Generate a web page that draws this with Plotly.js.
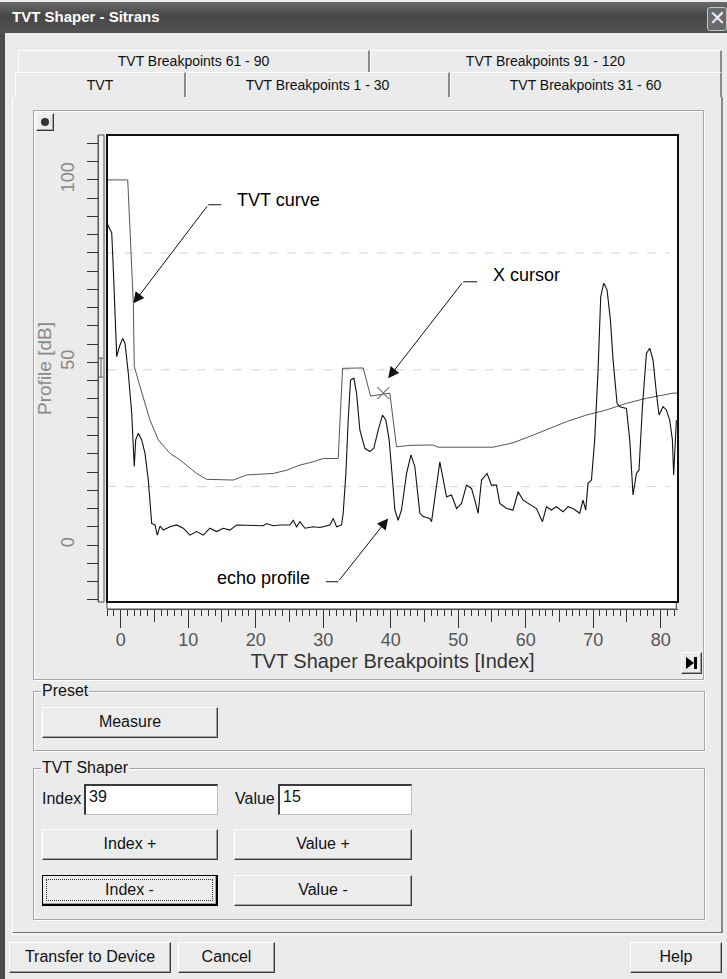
<!DOCTYPE html>
<html><head><meta charset="utf-8">
<script src="https://cdn.plot.ly/plotly-3.0.1.min.js"></script>
<style>
html,body{margin:0;padding:0;}
body{width:727px;height:979px;position:relative;overflow:hidden;background:#ebebeb;font-family:'Liberation Sans',Arial,sans-serif;color:#111;}
.a{position:absolute;box-sizing:border-box;}
#titlebar{left:0;top:2px;width:727px;height:31px;background:linear-gradient(#6a6a6a,#474747 45%,#525252 100%);}
#titletext{left:12px;top:8px;color:#fff;font-weight:bold;font-size:15px;}
#close{left:707px;top:7px;width:20px;height:24px;border:1px solid #c4c4c4;border-radius:3px;background:#6a6a6a;color:#f0f0f0;font-size:20px;line-height:21px;text-align:center;}
#leftedge{left:0;top:33px;width:5px;height:946px;background:#4a4a4a;}
.tab{height:22px;border-top:1px solid #fff;border-left:1px solid #fff;border-right:2px solid #8a8a8a;background:#ebebeb;font-size:14px;text-align:center;line-height:21px;}
.btn{background:#ececec;border-top:1px solid #fff;border-left:1px solid #fff;border-right:1px solid #3a3a3a;border-bottom:1px solid #3a3a3a;box-shadow:inset -1px -1px 0 #a0a0a0;font-size:16px;text-align:center;color:#111;}
.grp{border:1px solid #a6a6a6;box-shadow:1px 1px 0 #fff, inset 1px 1px 0 #fff;}
.lbl{background:#ebebeb;font-size:16px;padding:0 1px;}
.tb{background:#fff;border-top:2px solid #3a3a3a;border-left:2px solid #3a3a3a;border-right:1px solid #bdbdbd;border-bottom:1px solid #bdbdbd;font-size:16px;padding-left:3px;line-height:22px;}
#chart{left:34px;top:111px;width:668px;height:568px;}
</style></head>
<body>
<div class="a" id="titlebar"></div>
<div class="a" id="titletext">TVT Shaper - Sitrans</div>
<div class="a" id="close">✕</div>
<div class="a" id="leftedge"></div>

<div class="a tab" style="left:18px;top:50px;width:352px;">TVT Breakpoints 61 - 90</div>
<div class="a tab" style="left:370px;top:50px;width:352px;">TVT Breakpoints 91 - 120</div>
<div class="a tab" style="left:15px;top:72px;width:171px;height:25px;line-height:24px;">TVT</div>
<div class="a tab" style="left:186px;top:72px;width:264px;height:25px;line-height:24px;">TVT Breakpoints 1 - 30</div>
<div class="a tab" style="left:450px;top:72px;width:272px;height:25px;line-height:24px;">TVT Breakpoints 31 - 60</div>
<div class="a" style="left:12px;top:97px;width:711px;height:836px;border-left:1px solid #fff;border-right:2px solid #8a8a8a;border-bottom:1px solid #777;"></div>

<div class="a grp" style="left:33px;top:110px;width:671px;height:570px;"></div>
<div class="a btn" style="left:36px;top:113px;width:18px;height:18px;"><div class="a" style="left:4px;top:4px;width:8px;height:8px;border-radius:50%;background:#333;"></div></div>
<div class="a btn" style="left:681px;top:652px;width:21px;height:22px;"><svg width="19" height="20" style="position:absolute;left:0;top:0"><path d="M4 4 L12 10 L4 16 Z" fill="#000"/><rect x="12" y="4" width="3" height="12" fill="#000"/></svg></div>
<div class="a" id="chart"></div>

<div class="a grp" style="left:33px;top:691px;width:672px;height:60px;"></div>
<div class="a lbl" style="left:41px;top:682px;">Preset</div>
<div class="a btn" style="left:42px;top:707px;width:176px;height:31px;line-height:28px;">Measure</div>

<div class="a grp" style="left:33px;top:768px;width:672px;height:152px;"></div>
<div class="a lbl" style="left:41px;top:759px;">TVT Shaper</div>
<div class="a" style="left:42px;top:790px;font-size:16px;">Index</div>
<div class="a tb" style="left:84px;top:784px;width:134px;height:31px;">39</div>
<div class="a" style="left:235px;top:790px;font-size:16px;">Value</div>
<div class="a tb" style="left:278px;top:784px;width:134px;height:31px;">15</div>
<div class="a btn" style="left:42px;top:829px;width:176px;height:31px;line-height:28px;">Index +</div>
<div class="a btn" style="left:234px;top:829px;width:178px;height:31px;line-height:28px;">Value +</div>
<div class="a btn" style="left:42px;top:875px;width:176px;height:31px;line-height:27px;border:1px solid #000;border-right:2px solid #000;border-bottom:2px solid #000;"><div class="a" style="left:3px;top:3px;right:3px;bottom:3px;border:1px dotted #333;"></div>Index -</div>
<div class="a btn" style="left:234px;top:875px;width:178px;height:31px;line-height:28px;">Value -</div>

<div class="a" style="left:12px;top:934px;width:711px;height:1px;background:#fff;"></div>
<div class="a btn" style="left:9px;top:942px;width:162px;height:31px;line-height:28px;">Transfer to Device</div>
<div class="a btn" style="left:178px;top:942px;width:97px;height:31px;line-height:28px;">Cancel</div>
<div class="a btn" style="left:630px;top:942px;width:92px;height:31px;line-height:28px;">Help</div>

<script>
// TVT curve (gray)
const tvtIndex = [-2.03, 1.04, 1.87, 2.01, 2.86, 4.34, 5.57, 7.30, 8.78, 11.25, 12.73, 16.67, 18.66, 22.59, 24.58, 26.55, 28.52, 30.0, 32.07, 32.22, 32.87, 35.92, 37.02, 39.87, 40.86, 42.83, 46.28, 47.02, 55.17, 58.13, 61.09, 63.07, 66.04, 69.0, 71.96, 74.92, 77.88, 79.6, 81.82, 82.56];
const tvtValue = [100, 100, 66.2, 48.9, 43.4, 34.2, 28.8, 25.1, 23.3, 19.6, 18.0, 17.8, 19.2, 19.6, 20.5, 21.9, 22.8, 23.7, 23.7, 23.7, 48.4, 48.5, 40.8, 41.6, 26.9, 27.3, 27.4, 26.8, 26.8, 28.0, 30.1, 31.5, 33.8, 35.6, 37.0, 38.8, 40.2, 40.8, 41.6, 41.6];

// echo profile (black)
const echoIndex = [-1.98, -1.33, -1.09, -0.84, -0.59, -0.2, 0.3, 0.64, 1.13, 1.63, 2.01, 2.22, 2.61, 3.11, 3.6, 4.09, 4.59, 5.08, 5.42, 5.82, 6.31, 7.3, 8.29, 9.27, 10.26, 11.25, 12.23, 13.22, 14.21, 15.19, 16.18, 17.17, 18.15, 19.14, 21.11, 21.62, 22.59, 23.59, 25.07, 25.56, 26.06, 26.55, 27.29, 28.52, 29.51, 30.99, 31.48, 31.98, 32.72, 32.96, 33.36, 33.7, 34.05, 34.54, 34.94, 35.43, 36.17, 36.91, 37.5, 38.14, 38.79, 39.28, 39.77, 40.27, 40.61, 41.1, 41.6, 42.35, 43.0, 43.57, 44.32, 44.8, 45.79, 46.05, 47.28, 48.27, 49.01, 49.75, 50.49, 51.23, 51.97, 52.46, 52.95, 53.45, 54.28, 54.93, 55.67, 56.16, 57.15, 58.13, 58.87, 59.61, 60.35, 61.59, 62.48, 63.07, 63.81, 64.55, 65.53, 66.27, 67.01, 68.0, 68.49, 68.89, 69.23, 69.74, 70.22, 70.72, 71.11, 71.56, 72.05, 72.55, 72.94, 73.53, 73.93, 74.92, 75.41, 75.9, 76.4, 76.78, 77.29, 77.88, 78.37, 78.86, 79.36, 79.75, 80.34, 80.84, 81.33, 81.73, 81.92, 82.32];
const echoValue = [87.9, 85.5, 75.3, 62.6, 51.6, 54.3, 56.6, 55.2, 47.0, 36.1, 21.5, 28.8, 30.6, 28.8, 25.1, 17.8, 5.9, 5.5, 2.7, 5.2, 4.1, 5.0, 5.5, 4.6, 2.7, 3.7, 2.7, 4.6, 3.7, 4.6, 4.1, 5.5, 5.5, 5.3, 5.3, 5.9, 5.3, 5.5, 5.5, 6.8, 5.0, 6.4, 4.6, 5.0, 4.8, 5.5, 7.3, 5.0, 5.5, 8.7, 19.6, 34.2, 45.2, 45.7, 41.6, 31.5, 26.5, 25.6, 26.5, 31.5, 35.6, 34.2, 28.8, 17.8, 9.6, 6.8, 9.6, 19.6, 24.7, 21.5, 8.7, 7.8, 7.3, 6.4, 22.8, 13.2, 13.7, 10.0, 11.4, 16.4, 15.5, 12.3, 8.7, 17.8, 19.6, 16.4, 16.4, 11.4, 10.0, 9.6, 14.6, 12.3, 11.4, 10.0, 6.4, 10.5, 9.6, 10.5, 9.1, 10.5, 10.0, 8.7, 12.3, 9.6, 16.9, 17.8, 28.8, 47.9, 68.0, 71.7, 69.9, 61.6, 50.7, 38.8, 37.9, 37.4, 28.8, 13.7, 19.6, 20.5, 37.9, 52.5, 53.9, 50.7, 41.6, 35.6, 37.9, 37.0, 34.2, 28.8, 19.2, 34.2];

// X cursor
const cursorIndex = [38.9];
const cursorValue = [41.6];

// axis ticks
const yTickValues = [-15, -10, -5, 0, 5, 10, 15, 20, 25, 30, 35, 40, 45, 50, 55, 60, 65, 70, 75, 80, 85, 90, 95, 100, 105, 110];
const yTickLabels = ['', '', '', '0', '', '', '', '', '', '', '', '', '', '50', '', '', '', '', '', '', '', '', '', '100', '', ''];
const xMidTicks = [5, 15, 25, 35, 45, 55, 65, 75];
const gridLevels = [16, 48, 80];

const W = 668, H = 568;
const L = 64, R = 24, T = 24, B = 70;
const pw = W - L - R, ph = H - T - B;
const xd0 = 9 / pw, yd0 = 7 / ph;

const xr = [-2.03, 82.56], yr = [-15.6, 112.3];
const annFont = {family: "'Liberation Sans', Arial", size: 18, color: '#000'};

const traces = [
  {x: tvtIndex, y: tvtValue, type: 'scatter', mode: 'lines', line: {color: '#555', width: 1}, hoverinfo: 'skip'},
  {x: echoIndex, y: echoValue, type: 'scatter', mode: 'lines', line: {color: '#111', width: 1.1}, hoverinfo: 'skip'},
  {x: cursorIndex, y: cursorValue, type: 'scatter', mode: 'markers', marker: {symbol: 'x-thin-open', size: 12, color: '#777', line: {color: '#777', width: 1.2}}, hoverinfo: 'skip'},
  {x: [], y: [], xaxis: 'x2', yaxis: 'y', type: 'scatter', mode: 'lines', hoverinfo: 'skip'}
];

const shapes = [
  {type: 'rect', xref: 'paper', yref: 'paper', x0: xd0, x1: 1, y0: yd0, y1: 1, fillcolor: '#fff', line: {width: 0}, layer: 'below'},
  {type: 'rect', xref: 'paper', yref: 'paper', x0: 0, x1: 6 / pw, y0: yd0, y1: 1, fillcolor: '#f2f2f2', line: {color: '#555', width: 1}, layer: 'below'},
  {type: 'rect', xref: 'paper', yref: 'paper', x0: xd0, x1: 0.997, y0: 0, y1: yd0, fillcolor: '#fff', line: {color: '#444', width: 1}, layer: 'below'}
];
gridLevels.forEach(g => shapes.push({type: 'line', xref: 'paper', yref: 'y', x0: xd0, x1: 0.985, y0: g, y1: g, line: {color: '#d4d4d4', width: 1, dash: 'dash'}, layer: 'below'}));
shapes.push({type: 'rect', xref: 'paper', yref: 'paper', x0: xd0, x1: 1, y0: yd0, y1: 1, fillcolor: 'rgba(0,0,0,0)', line: {color: '#111', width: 2}, layer: 'above'});
// small I marker on the y strip
shapes.push({type: 'line', xref: 'paper', yref: 'y', x0: 3 / pw, x1: 3 / pw, y0: 46, y1: 51.2, line: {color: '#555', width: 1}});
shapes.push({type: 'line', xref: 'paper', yref: 'y', x0: 1 / pw, x1: 5 / pw, y0: 51.2, y1: 51.2, line: {color: '#555', width: 1}});
shapes.push({type: 'line', xref: 'paper', yref: 'y', x0: 1 / pw, x1: 5 / pw, y0: 46, y1: 46, line: {color: '#555', width: 1}});
// elbows of the callouts
shapes.push({type: 'line', xref: 'x', yref: 'y', x0: 12.97, x1: 14.9, y0: 93.2, y1: 93.2, line: {color: '#111', width: 1}});
shapes.push({type: 'line', xref: 'x', yref: 'y', x0: 50.73, x1: 52.8, y0: 72.1, y1: 72.1, line: {color: '#111', width: 1}});
shapes.push({type: 'line', xref: 'x', yref: 'y', x0: 30.4, x1: 32.2, y0: -10.05, y1: -10.05, line: {color: '#111', width: 1}});

const arrow = (x, y, ax, ay) => ({x: x, y: y, ax: ax, ay: ay, xref: 'x', yref: 'y', axref: 'x', ayref: 'y', text: '', showarrow: true, arrowhead: 2, arrowsize: 2.2, arrowwidth: 1, arrowcolor: '#111', standoff: 0, startstandoff: 0});

const annotations = [
  {x: 16.92, y: 94.5, xref: 'x', yref: 'y', text: 'TVT curve', showarrow: false, xanchor: 'left', yanchor: 'middle', font: annFont},
  arrow(1.87, 66.2, 12.97, 93.2),
  {x: 54.93, y: 74.0, xref: 'x', yref: 'y', text: 'X cursor', showarrow: false, xanchor: 'left', yanchor: 'middle', font: annFont},
  arrow(39.62, 45.7, 50.73, 72.1),
  {x: 13.96, y: -8.9, xref: 'x', yref: 'y', text: 'echo profile', showarrow: false, xanchor: 'left', yanchor: 'middle', font: annFont},
  arrow(39.62, 7.3, 32.2, -10.05)
];

const layout = {
  width: W, height: H,
  margin: {l: L, r: R, t: T, b: B, pad: 0},
  paper_bgcolor: 'rgba(0,0,0,0)', plot_bgcolor: 'rgba(0,0,0,0)',
  showlegend: false,
  font: {family: "'Liberation Sans', Arial, sans-serif"},
  xaxis: {
    domain: [xd0, 1], range: xr, anchor: 'free', position: 0,
    showgrid: false, zeroline: false, showline: true, linecolor: '#555', linewidth: 1,
    ticks: 'outside', tick0: 0, dtick: 10, ticklen: 18, tickwidth: 1, tickcolor: '#333',
    minor: {ticks: 'outside', dtick: 1, ticklen: 6, tickwidth: 1, tickcolor: '#333', showgrid: false},
    tickfont: {size: 18, color: '#555'}, ticklabelstandoff: -4,
    title: {text: 'TVT Shaper Breakpoints [Index]', font: {size: 20, color: '#333'}, standoff: 0},
    fixedrange: true
  },
  xaxis2: {
    overlaying: 'x', range: xr, anchor: 'free', position: 0, side: 'bottom',
    showgrid: false, zeroline: false, showline: false,
    ticks: 'outside', tickvals: xMidTicks, ticklen: 12, tickwidth: 1, tickcolor: '#333',
    showticklabels: false, fixedrange: true
  },
  yaxis: {
    domain: [yd0, 1], range: yr, anchor: 'free', position: 0,
    showgrid: false, zeroline: false, showline: true, linecolor: '#555', linewidth: 1,
    ticks: 'outside', tickvals: yTickValues, ticktext: yTickLabels, ticklen: 11, tickwidth: 1, tickcolor: '#333',
    tickangle: -90, ticklabelstandoff: 6,
    tickfont: {size: 18, color: '#888'},
    title: {text: 'Profile [dB]', font: {size: 19, color: '#8a8a8a'}, standoff: 6},
    fixedrange: true
  },
  shapes: shapes,
  annotations: annotations
};

Plotly.newPlot('chart', traces, layout, {displayModeBar: false, staticPlot: true});
</script>
</body></html>
